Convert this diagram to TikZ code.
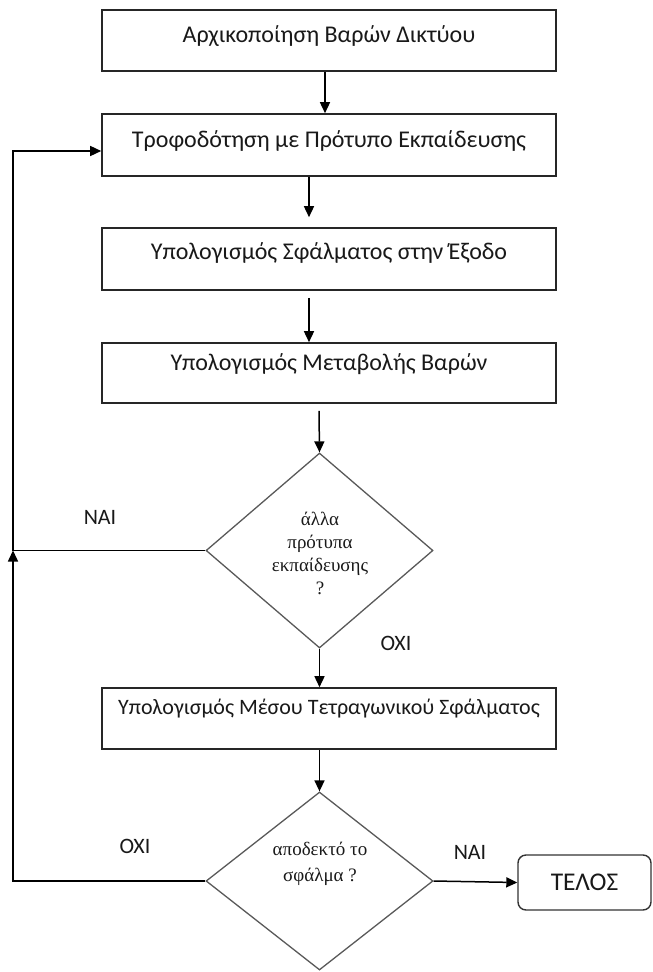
\documentclass[tikz,border=0pt]{standalone}
\usepackage{fontspec}
\setmainfont{Carlito}
\newfontfamily\qfont{Liberation Serif}
\usetikzlibrary{shapes.geometric,arrows.meta,calc}

\begin{document}
\begin{tikzpicture}[x=1pt,y=-1pt,
  every node/.style={text=black!90},
  stepbox/.style={draw=black!85,line width=1.6pt,minimum width=454pt,
    inner xsep=0pt,inner ysep=0pt,font=\fontsize{24}{28}\selectfont},
  endbox/.style={draw=black!80,line width=1.4pt,rounded corners=8pt,
    minimum width=133pt,minimum height=55pt,inner sep=0pt,font=\fontsize{25.5}{29}\selectfont},
  decision/.style={diamond,draw=black!65,line width=1.3pt,inner sep=0pt,minimum width=227pt},
  qtext/.style={align=center,font=\qfont\fontsize{19}{23}\selectfont},
  flow/.style={draw=black,line width=1.5pt,-{Triangle[length=11pt,width=10pt]}},
  tag/.style={font=\fontsize{22}{26}\selectfont}
]
\useasboundingbox (0,0) rectangle (653,972);

% process steps
\node[stepbox,text height=32pt,text depth=29pt] (b1) at (329,40.5) {Αρχικοποίηση Βαρών Δικτύου};
\node[stepbox,text height=33pt,text depth=29pt] (b2) at (329,145) {Τροφοδότηση με Πρότυπο Εκπαίδευσης};
\node[stepbox,text height=31pt,text depth=31pt] (b3) at (329,259) {Υπολογισμός Σφάλματος στην Έξοδο};
\node[stepbox,text height=27pt,text depth=33pt] (b4) at (329,373) {Υπολογισμός Μεταβολής Βαρών};
\node[stepbox,font=\fontsize{22}{26}\selectfont,text height=26pt,text depth=35pt] (b5) at (329,718.5) {Υπολογισμός Μέσου Τετραγωνικού Σφάλματος};

% decisions
\node[decision,minimum height=195pt] (d1) at (319.5,550.5) {};
\node[qtext] (q1) at (320,553) {άλλα\\πρότυπα\\εκπαίδευσης\\?};
\node[decision,minimum height=178pt] (d2) at (319.5,881) {};
\node[qtext,font=\qfont\fontsize{19}{26}\selectfont] (q2) at (320,864) {αποδεκτό το\\σφάλμα ?};

% terminal
\node[endbox] (end) at (584.5,882.5) {ΤΕΛΟΣ};

% branch labels
\node[tag] (yes1) at (100,517) {ΝΑΙ};
\node[tag] (no1) at (396,643) {ΟΧΙ};
\node[tag] (no2) at (135,846) {ΟΧΙ};
\node[tag] (yes2) at (470,852) {ΝΑΙ};

% main flow
\draw[flow] ([xshift=-4pt]b1.south) -- ([xshift=-4pt]b2.north);
\draw[flow] ([xshift=-20pt]b2.south) -- ([xshift=-20pt,yshift=10pt]b3.north);
\draw[flow] ([xshift=-20pt,yshift=-7pt]b3.south) -- ([xshift=-20pt]b4.north);
\draw[flow] ([xshift=-10pt,yshift=-7pt]b4.south) -- (d1.north);
\draw[flow] (d1.south) -- (d1.south |- b5.north);
\draw[flow] (b5.south -| d2.north) -- (d2.north);
\draw[flow] (d2.east) -- (end.west);

% feedback loops
\coordinate (j1) at (13,550.5);
\coordinate (c1) at (13,151);
\draw[flow] (d2.west) -- (d2.west -| j1) -- (j1);
\draw[flow] (d1.west) -- (j1) -- (c1) -- (c1 -| b2.west);
\end{tikzpicture}
\end{document}
